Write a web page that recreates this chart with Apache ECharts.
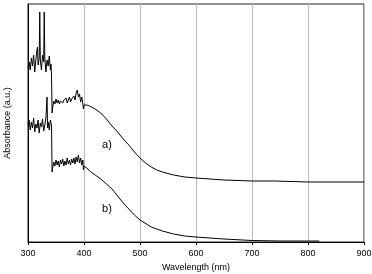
<!DOCTYPE html>
<html><head><meta charset="utf-8">
<script src="https://cdn.jsdelivr.net/npm/echarts@6/dist/echarts.min.js"></script>
<style>html,body{margin:0;padding:0;background:#fff}#c{width:372px;height:274px}</style>
</head><body><div id="c"></div>
<script>
// Wavelengths (nm) and absorbance (a.u.) for trace a)
const wlA = [300,302,304,306,308,310,312,314,316,317,318,320,321,322,324,326,328,329,330,332,334,336,338,340,341,342,343,344,346,348,350,352,354,356,358,360,362,364,366,368,370,372,374,376,378,380,382,384,386,388,390,392,394,396,398,399,400,405,410,420,430,440,450,460,470,480,490,500,510,520,530,540,560,580,600,650,700,740,741,800,900];
const absA = [1.74,1.80,1.72,1.84,1.76,1.87,1.70,1.82,1.92,1.95,1.77,1.84,2.30,1.82,1.72,1.87,1.80,2.30,1.84,1.70,1.82,1.76,1.86,1.72,1.78,1.67,1.29,1.34,1.41,1.38,1.43,1.39,1.42,1.38,1.41,1.43,1.39,1.42,1.40,1.44,1.39,1.42,1.45,1.40,1.43,1.41,1.46,1.42,1.49,1.52,1.45,1.48,1.40,1.45,1.38,1.33,1.37,1.37,1.36,1.33,1.29,1.23,1.16,1.10,1.03,0.97,0.90,0.84,0.79,0.75,0.72,0.70,0.67,0.65,0.64,0.62,0.61,0.61,0.60,0.60,0.60];
// Trace b)
const wlB = [300,302,304,306,308,310,312,314,316,318,320,322,324,326,328,330,332,334,335,336,338,340,342,343,344,346,348,350,352,354,356,358,360,362,364,366,368,370,372,374,376,378,380,382,384,386,388,390,392,394,396,398,399,400,405,410,420,430,440,450,460,470,480,490,500,520,540,560,580,600,650,700,750,820];
const absB = [1.17,1.22,1.12,1.20,1.14,1.24,1.10,1.18,1.14,1.22,1.09,1.19,1.15,1.23,1.11,1.17,1.24,1.45,1.14,1.20,1.12,1.22,1.16,0.70,0.74,0.80,0.76,0.82,0.77,0.81,0.75,0.82,0.78,0.83,0.76,0.81,0.77,0.84,0.78,0.82,0.77,0.83,0.79,0.84,0.78,0.85,0.80,0.87,0.79,0.84,0.77,0.82,0.72,0.76,0.74,0.71,0.67,0.63,0.58,0.53,0.46,0.39,0.33,0.27,0.22,0.15,0.11,0.08,0.06,0.05,0.03,0.015,0.01,0.01];
const xTicks = [300,400,500,600,700,800,900];
const labelA = {text:'a)', wl:441, abs:0.97};
const labelB = {text:'b)', wl:441, abs:0.33};

const zip = (x,y)=>x.map((v,i)=>[v,y[i]]);
const font = '"Liberation Sans", Arial, sans-serif';
const chart = echarts.init(document.getElementById('c'));
const mp = l => ({symbol:'circle',symbolSize:0,silent:true,
  label:{show:true,position:'inside',formatter:l.text,color:'#000',fontSize:11,fontFamily:font},
  data:[{coord:[l.wl,l.abs]}]});
chart.setOption({
  animation:false,
  grid:{left:28,right:8,top:4,bottom:32,show:true,borderColor:'#222',borderWidth:1,
    containLabel:false,outerBoundsMode:'none'},
  xAxis:{type:'value',min:xTicks[0],max:xTicks[xTicks.length-1],interval:100,
    name:'Wavelength (nm)',nameLocation:'middle',nameGap:17,
    nameTextStyle:{fontFamily:font,fontSize:9,color:'#000'},
    axisLine:{lineStyle:{color:'#000',width:1}},
    axisTick:{show:true,length:3,lineStyle:{color:'#000'}},
    axisLabel:{fontFamily:font,fontSize:9,color:'#000',margin:7},
    splitLine:{show:true,lineStyle:{color:'#bbb',width:1}}},
  yAxis:{type:'value',min:0,max:2.38,
    name:'Absorbance (a.u.)',nameLocation:'middle',nameGap:16,
    nameTextStyle:{fontFamily:font,fontSize:9,color:'#000'},
    axisLine:{show:true,lineStyle:{color:'#000',width:1}},
    axisTick:{show:false},axisLabel:{show:false},splitLine:{show:false}},
  series:[
    {type:'line',data:zip(wlA,absA),showSymbol:false,lineStyle:{color:'#000',width:1},markPoint:mp(labelA)},
    {type:'line',data:zip(wlB,absB),showSymbol:false,lineStyle:{color:'#000',width:1},markPoint:mp(labelB)}
  ]
});
</script></body></html>
